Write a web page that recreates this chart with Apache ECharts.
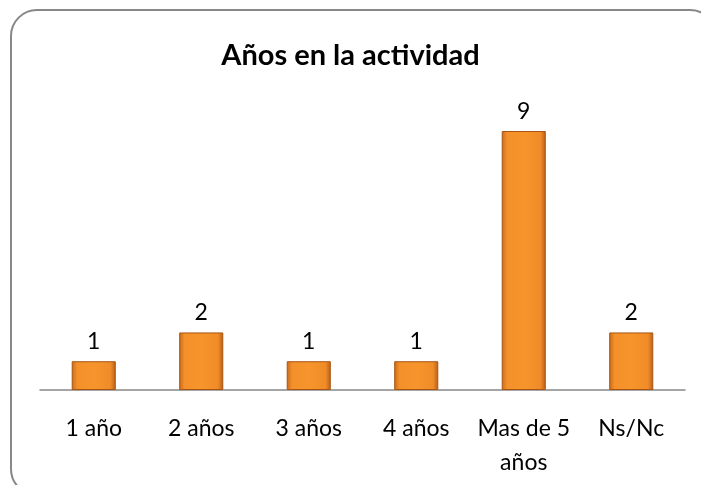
<!DOCTYPE html>
<html>
<head>
<meta charset="utf-8">
<script src="https://cdn.jsdelivr.net/npm/echarts@6/dist/echarts.min.js"></script>
<style>
  html, body { margin: 0; padding: 0; background: #fff; }
  #container { width: 701px; height: 485px; }
</style>
</head>
<body>
<div id="container"></div>
<script>
var categories = ['1 año', '2 años', '3 años', '4 años', 'Mas de 5\naños', 'Ns/Nc'];
var values = [1, 2, 1, 1, 9, 2];
var titleText = 'Años en la actividad';

var chart = echarts.init(document.getElementById('container'));

// bar fill: darker at the edges, bright orange in the middle
var barFill = new echarts.graphic.LinearGradient(0, 0, 1, 0, [
    { offset: 0, color: '#c96a1c' },
    { offset: 0.12, color: '#f3902a' },
    { offset: 0.5, color: '#f7952c' },
    { offset: 0.88, color: '#f08c28' },
    { offset: 1, color: '#b85e16' }
]);

var option = {
    backgroundColor: '#fff',
    textStyle: { fontFamily: 'Lato' },
    title: {
        text: titleText,
        left: 'center',
        top: 36,
        textStyle: { fontFamily: 'Lato', fontSize: 29, fontWeight: 'bold', color: '#000' }
    },
    graphic: [{
        type: 'rect',
        shape: { x: 11, y: 10, width: 705, height: 485, r: 26 },
        style: { fill: 'none', stroke: '#888', lineWidth: 2 },
        silent: true,
        z: 10
    }],
    grid: { left: 40, right: 16, top: 131, bottom: 95 },
    xAxis: {
        type: 'category',
        data: categories,
        axisLine: { lineStyle: { color: '#888', width: 1.5 } },
        axisTick: { show: false },
        axisLabel: { color: '#000', fontSize: 23, margin: 22, lineHeight: 34, interval: 0 }
    },
    yAxis: {
        type: 'value',
        min: 0,
        max: 9,
        show: false,
        splitLine: { show: false }
    },
    series: [{
        type: 'bar',
        data: values,
        barWidth: '41%',
        itemStyle: { color: barFill, borderColor: '#a85513', borderWidth: 1 },
        label: {
            show: true,
            position: 'top',
            distance: 8,
            color: '#000',
            fontSize: 23
        }
    }]
};

chart.setOption(option);
</script>
</body>
</html>
